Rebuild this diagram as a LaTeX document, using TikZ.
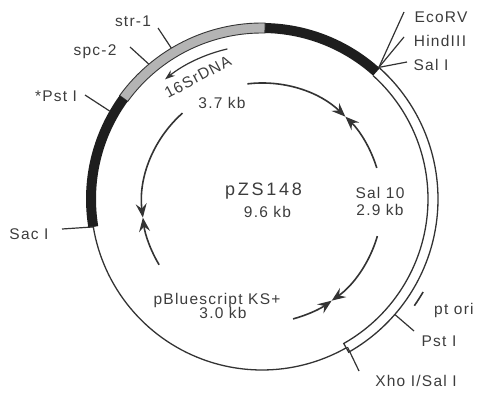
\documentclass[tikz,border=0pt]{standalone}
\usepackage{fontspec}
\setmainfont[LetterSpace=8]{Liberation Sans}
\usetikzlibrary{arrows.meta}
\definecolor{ink}{HTML}{333333}
\definecolor{txt}{HTML}{3C3C3C}
\definecolor{band}{HTML}{1E1E1E}
\definecolor{greyband}{HTML}{B4B4B4}
\tikzset{
  lbl/.style={anchor=base, inner sep=0pt, text=txt, font=\fontsize{15.5}{17}\selectfont},
  big/.style={anchor=base, inner sep=0pt, text=txt, font=\addfontfeatures{LetterSpace=15}\fontsize{18}{20}\selectfont},
  leader/.style={draw=ink, line width=1.2pt},
  ring/.style={draw=ink, line width=1.3pt},
  arr/.style={draw=ink, line width=1.6pt, -{Stealth[length=14pt,width=11pt,inset=5pt]}},
}
\begin{document}
\begin{tikzpicture}[x=1pt,y=1pt]
\useasboundingbox (0,0) rectangle (482,392);
% outer map
\begin{scope}[shift={(262,193)}]
  % black band top
  \fill[band] (48:176) arc[start angle=48, end angle=89, radius=176] -- (89:166) arc[start angle=89, end angle=48, radius=166] -- cycle;
  % grey band
  \filldraw[fill=greyband, draw=ink, line width=0.9pt] (89:176) arc[start angle=89, end angle=144, radius=176] -- (144:166) arc[start angle=144, end angle=89, radius=166] -- cycle;
  % black band left
  \fill[band] (144:176) arc[start angle=144, end angle=189.4, radius=176] -- (189.4:166) arc[start angle=189.4, end angle=144, radius=166] -- cycle;
  % thin circle
  \draw[ring] (189.4:171) arc[start angle=189.4, end angle=299.5, radius=171];
  % white band
  \draw[ring] (48:176) arc[start angle=48, end angle=-60.5, radius=176] -- (-60.5:166) arc[start angle=-60.5, end angle=48, radius=166];
  % site coordinates
  \coordinate (sstr) at (121:176);
  \coordinate (sspc) at (130:176);
  \coordinate (spst) at (150:176);
  \coordinate (ssac) at (189.4:171);
  \coordinate (seco) at (48.4:176);
  \coordinate (spst2) at (-41:176);
  \coordinate (sxho) at (-60:171);
  % pt ori mark
  \draw[ring, line width=1.6pt] (-35:186) arc[start angle=-35, end angle=-30, radius=186];
  % 16SrDNA arrow
  \draw[draw=ink, line width=1.2pt, -{Stealth[length=10pt,width=7pt]}] (103:154) arc[start angle=103, end angle=129, radius=154];
  \node[lbl, anchor=center, rotate=28] (rdna) at (117.7:138) {16SrDNA};
\end{scope}
% inner arcs
\begin{scope}[shift={(262,189)}]
  \draw[arr] (97:120) arc[start angle=97, end angle=46, radius=120];
  \draw[arr] (17:120) arc[start angle=17, end angle=46, radius=120];
  \draw[arr] (-16:120) arc[start angle=-16, end angle=-54.5, radius=120];
  \draw[arr] (-75:120) arc[start angle=-75, end angle=-54.5, radius=120];
  \draw[arr] (131.5:120) arc[start angle=131.5, end angle=187, radius=120];
  \draw[arr] (211:120) arc[start angle=211, end angle=187, radius=120];
\end{scope}
% labels
\node[lbl] (str) at (133,365) {str-1};
\node[lbl] (spc) at (95,337) {spc-2};
\node[lbl] (pst) at (56,291) {*Pst I};
\node[lbl] (sac) at (29,153) {Sac I};
\node[lbl] (eco) at (441,370) {EcoRV};
\node[lbl] (hind) at (440,345) {HindIII};
\node[lbl] (sal) at (431,322) {Sal I};
\node[lbl] (kb37) at (222,284) {3.7 kb};
\node[big] (name) at (263.5,197) {pZS148};
\node[lbl] (kb96) at (267.5,175) {9.6 kb};
\node[lbl] (sal10) at (380,194) {Sal 10};
\node[lbl] (kb29) at (380,177) {2.9 kb};
\node[lbl] (pbs) at (217,88) {pBluescript KS+};
\node[lbl] (kb30) at (223,74) {3.0 kb};
\node[lbl, anchor=base west] (ori) at (434,78) {pt ori};
\node[lbl] (pst2) at (439,46) {Pst I};
\node[lbl] (xho) at (416,6) {Xho I/Sal I};
% leaders
\coordinate (lstr) at (158,364);
\coordinate (lspc) at (130,345);
\coordinate (lpst) at (85,297);
\coordinate (lsac) at (62,163);
\coordinate (leco) at (404,380);
\coordinate (lhind) at (404,355);
\coordinate (lsal) at (407,330);
\coordinate (lpst2) at (414,61);
\coordinate (lxho) at (359,21);
\draw[leader] (lstr) -- (sstr);
\draw[leader] (lspc) -- (sspc);
\draw[leader] (lpst) -- (spst);
\draw[leader] (lsac) -- (ssac);
\draw[leader] (leco) -- (seco);
\draw[leader] (lhind) -- (seco);
\draw[leader] (lsal) -- (seco);
\draw[leader] (lpst2) -- (spst2);
\draw[leader] (lxho) -- (sxho);
\end{tikzpicture}
\end{document}
